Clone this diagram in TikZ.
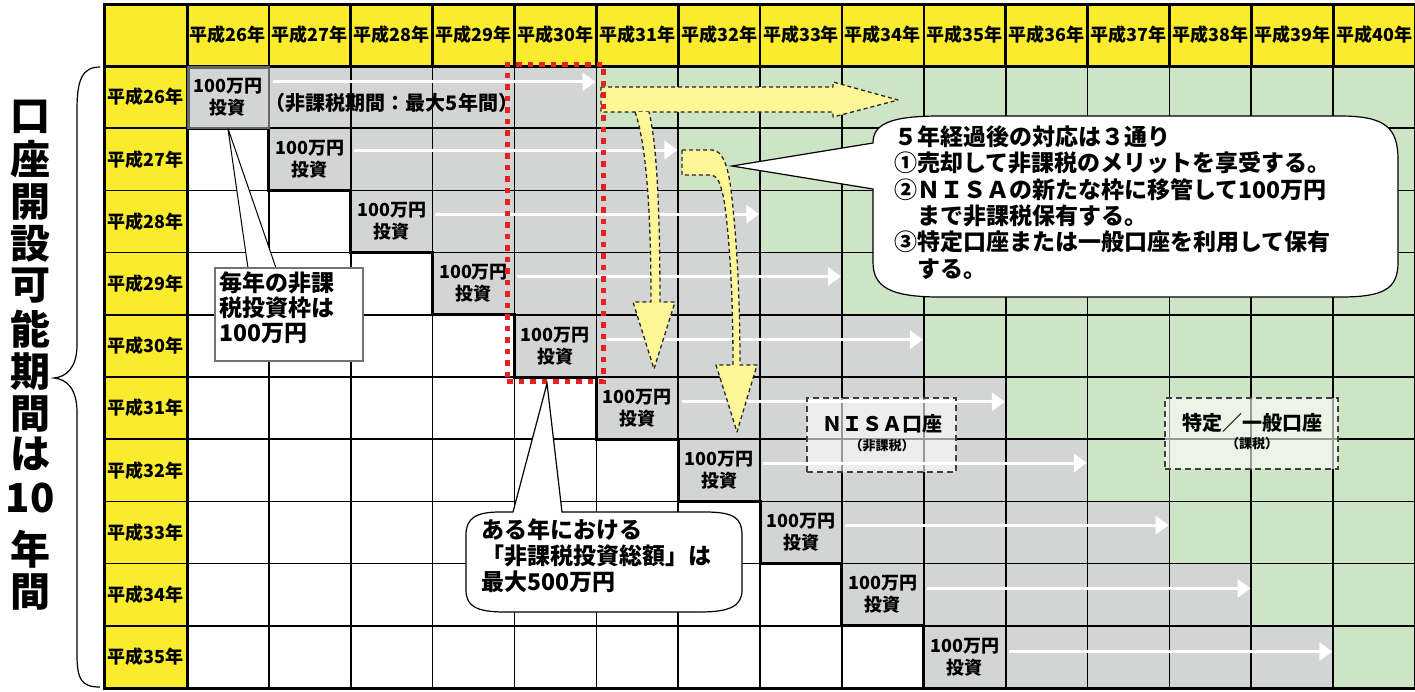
\documentclass[tikz,border=0pt]{standalone}
\usepackage{fontspec}
\setmainfont{Noto Sans CJK JP}
\usetikzlibrary{arrows.meta, positioning, calc}

\definecolor{hdryellow}{RGB}{250,236,45}
\definecolor{taxgray}{RGB}{211,212,212}
\definecolor{freegreen}{RGB}{205,229,196}
\definecolor{arrowyellow}{RGB}{255,246,152}
\definecolor{dotred}{RGB}{232,32,32}

\newcommand{\colw}{81.87}
\newcommand{\rowh}{62.2}

\begin{document}
\begin{tikzpicture}[x=1pt, y=-1pt,
  gridline/.style={black, line width=1.7pt},
  hdrtext/.style={font=\bfseries\fontsize{18}{20}\selectfont},
  invest/.style={minimum width=81.87pt, minimum height=62.2pt, inner sep=0pt,
    align=center, font=\bfseries\fontsize{18}{22}\selectfont},
  whitearrow/.style={white, line width=3pt, -{Triangle[length=13pt,width=18pt]}},
  yellowarrow/.style={fill=arrowyellow, draw=black!85, line width=1.3pt,
    dash pattern=on 4pt off 3pt, line join=round},
  callout/.style={fill=white, draw=black, line width=1.2pt},
  notetext/.style={font=\bfseries\fontsize{23}{26.3}\selectfont, align=left, inner sep=0pt},
  accountbox/.style={draw=black!75, dash pattern=on 6pt off 4pt, line width=1.5pt,
    fill=white, fill opacity=0.6},
  sidetext/.style={font=\bfseries\fontsize{40}{42}\selectfont, inner sep=0pt}]
\useasboundingbox (0,0) rectangle (1415,691);

% header fills
\fill[hdryellow] (104,4) rectangle (1415,66);
\fill[hdryellow] (104,66) rectangle (187,688);

% five-year windows (gray) and later years (green)
\foreach \r in {0,...,9} {
  \pgfmathsetmacro{\ry}{66+\r*\rowh}
  \pgfmathsetmacro{\gx}{187+\r*\colw}
  \pgfmathsetmacro{\ex}{187+min(\r+5,15)*\colw}
  \fill[taxgray] (\gx,\ry) rectangle (\ex,\ry+\rowh);
  \fill[freegreen] (\ex,\ry) rectangle (1415,\ry+\rowh);
}

% grid
\foreach \c in {1,...,14}
  \draw[gridline] ({187+\c*\colw},4) -- ({187+\c*\colw},688);
\foreach \c in {1,...,14}
  \draw[line width=2.6pt] ({187+\c*\colw},4) -- ({187+\c*\colw},66);
\foreach \r in {1,...,9}
  \draw[gridline] (104,{66+\r*\rowh}) -- (1415,{66+\r*\rowh});
\draw[line width=3pt] (104,66) -- (1415,66);
\draw[line width=3pt] (187,4) -- (187,688);
\draw[line width=3pt] (104,4) rectangle (1415,688);

% staircase of yearly boxes
\draw[line width=3pt] (187,66) \foreach \i in {0,...,9} {
  -- ({187+\i*\colw},{66+(\i+1)*\rowh}) -- ({187+(\i+1)*\colw},{66+(\i+1)*\rowh}) };
\draw[black!60, line width=2.4pt] (188.5,67.5) rectangle ({187+\colw},{66+\rowh});

% year labels
\foreach \c in {0,...,14} {
  \pgfmathtruncatemacro{\yr}{26+\c}
  \node[hdrtext] (col\c) at ({187+(\c+0.5)*\colw},35) {平成\yr{}年};
}
\foreach \r in {0,...,9} {
  \pgfmathtruncatemacro{\yr}{26+\r}
  \node[hdrtext] (row\r) at (145.5,{66+(\r+0.5)*\rowh}) {平成\yr{}年};
}

% yearly investments
\foreach \i in {0,...,9}
  \node[invest] (inv\i) at ({187+(\i+0.5)*\colw},{66+(\i+0.5)*\rowh}) {100万円\\投資};

\node[font=\bfseries\fontsize{20}{22}\selectfont] (term) at (392,103) {（非課税期間：最大5年間）};

% holding periods
\foreach \i/\dy/\dx in {0/16/4, 1/22/3, 2/24/2, 3/24/2, 4/25/10, 5/25/4, 6/24/3, 7/24/3, 8/25/3, 9/26/3}
  \draw[whitearrow] ([shift={(\dx,\dy)}]inv\i.north east)
    -- ([shift={({4*\colw-1},\dy)}]inv\i.north east);

% account boxes
\node[accountbox, minimum width=149pt, minimum height=74pt] (nisa) at (881.5,435) {};
\node[font=\bfseries\fontsize{20}{22}\selectfont] (nisalbl) at (882,424) {ＮＩＳＡ口座};
\node[font=\bfseries\fontsize{13}{15}\selectfont] (nisasub) at (882,446) {（非課税）};
\node[accountbox, minimum width=173pt, minimum height=71pt] (taxed) at (1251.5,433.5) {};
\node[font=\bfseries\fontsize{20}{22}\selectfont] (taxedlbl) at (1252,423) {特定／一般口座};
\node[font=\bfseries\fontsize{13}{15}\selectfont] (taxedsub) at (1252,444) {（課税）};

% yellow arrows after five years
\draw[yellowarrow] (601,87) -- (833,87) -- (833,82) -- (898,100) -- (833,117)
  -- (833,112) -- (601,112) -- cycle;
\draw[yellowarrow] (635,112) .. controls (645,140) and (651,200) .. (651,302)
  -- (633,302) -- (654,369) -- (675,302) -- (660,302)
  .. controls (660,200) and (656,140) .. (649,112);
\draw[yellowarrow] (682,150) -- (712,150) .. controls (722,150) and (728,165) .. (731,190)
  .. controls (737,240) and (740,300) .. (740,365) -- (757,365) -- (737,432) -- (716,365)
  -- (733,365) .. controls (733,300) and (730,240) .. (724,200)
  .. controls (721,185) and (718,175) .. (710,175) -- (682,175) -- cycle;

% five-year window
\node[draw=dotred, line width=5pt, dash pattern=on 5.5pt off 6pt,
  minimum width=96pt, minimum height=317pt, inner sep=0pt] (window) at (555,222.5) {};

% callout: three options
\coordinate (optiontip) at (732,166);
\draw[callout] (optiontip) -- (873,143) .. controls (873,124) and (890,116) .. (940,116)
  -- (1340,116) .. controls (1386,116) and (1398,128) .. (1398,160) -- (1398,262)
  .. controls (1398,289) and (1384,297) .. (1340,297) -- (940,297)
  .. controls (890,297) and (873,287) .. (873,262) -- (873,189) -- cycle;
\node[notetext, anchor=west] (options) at (894,202.5)
  {５年経過後の対応は３通り\\①売却して非課税のメリットを享受する。\\②ＮＩＳＡの新たな枠に移管して100万円\\　まで非課税保有する。\\③特定口座または一般口座を利用して保有\\　する。};

% callout: yearly limit
\fill[white] (248,269) -- (inv0.south) -- (276,269) -- cycle;
\draw[line width=1pt] (248,268) -- (inv0.south) -- (276,268);
\draw[fill=white, draw=black!55, line width=1.2pt] (215,268) rectangle (363,361);
\node[notetext, anchor=west, font=\bfseries\fontsize{23}{25}\selectfont] (yearly) at (219,308)
  {毎年の非課\\税投資枠は\\100万円};

% callout: total limit
\draw[callout] (513,512) -- ([xshift=-8pt]window.south) -- (562,512) -- (705,512)
  .. controls (734,512) and (742,518) .. (742,535) -- (742,590)
  .. controls (742,606) and (730,612) .. (700,612) -- (505,612)
  .. controls (476,612) and (466,606) .. (466,590) -- (466,535)
  .. controls (466,518) and (476,512) .. (500,512) -- cycle;
\node[notetext, anchor=west, font=\bfseries\fontsize{23}{26}\selectfont] (total) at (481,556)
  {ある年における\\「非課税投資総額」は\\最大500万円};

% side label and brace
\foreach \ch/\y [count=\k] in {口/117, 座/159, 開/202, 設/244, 可/286, 能/329,
    期/372, 間/414, は/454, 10/498, 年/549, 間/592}
  \node[sidetext] (side\k) at (30,\y) {\ch};
\draw[line width=1.2pt] (100,67) .. controls (82,67) and (77,80) .. (77,110) -- (77,345)
  .. controls (77,368) and (66,377) .. (54,378) .. controls (66,379) and (77,388) .. (77,412)
  -- (77,655) .. controls (77,680) and (82,687) .. (100,687);
\end{tikzpicture}
\end{document}
